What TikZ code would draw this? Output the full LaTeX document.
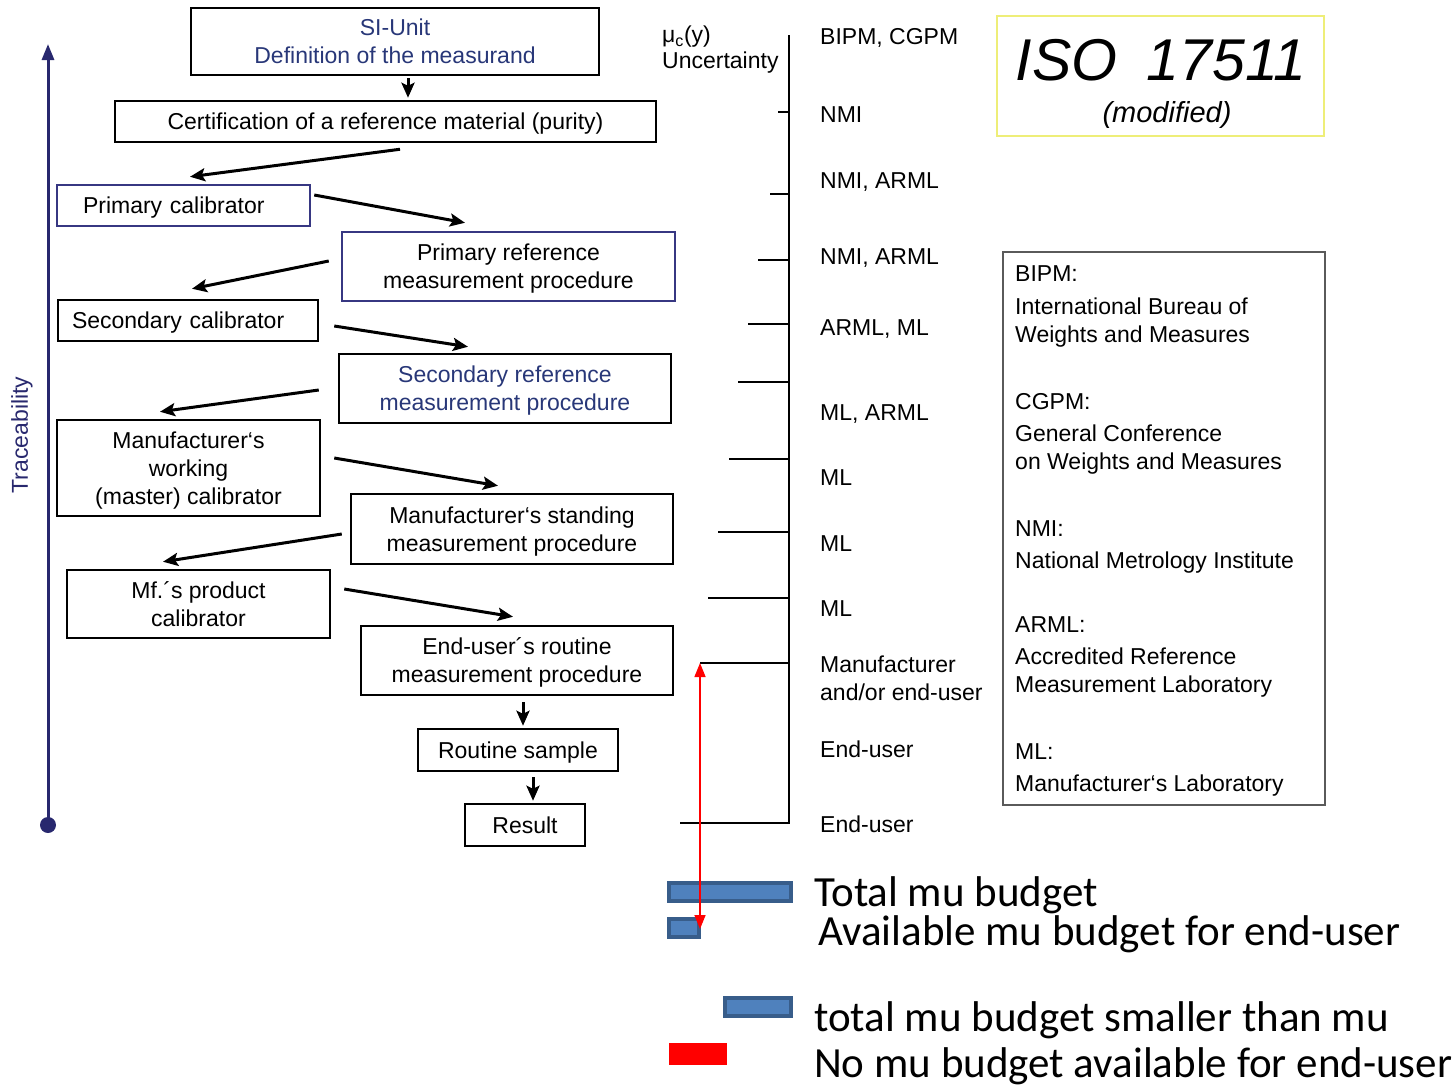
\documentclass[tikz,border=0pt]{standalone}
\usepackage{fontspec}
\setmainfont{Liberation Sans}
\newfontfamily\calfont{Carlito}
\usetikzlibrary{arrows.meta,calc}
\definecolor{navy}{RGB}{40,40,110}
\definecolor{boxnavy}{RGB}{55,55,130}
\definecolor{txtblue}{RGB}{40,55,120}
\definecolor{barfill}{RGB}{79,129,189}
\definecolor{barline}{RGB}{56,93,138}
\definecolor{isoyellow}{RGB}{238,238,120}
\definecolor{leggray}{RGB}{90,90,90}
\begin{document}
\begin{tikzpicture}[x=1pt,y=-1pt,
  every node/.style={font=\fontsize{23}{28}\selectfont, inner sep=0pt},
  box/.style={draw=black, line width=2.5pt, align=center, text depth=0pt},
  arr/.style={line width=3pt, -{Stealth[length=15pt,width=13pt,inset=3pt]}},
  tick/.style={line width=2pt},
  lab/.style={anchor=mid west, yshift=-3pt},
  bar/.style={draw=barline, fill=barfill, line width=4pt, inner sep=0pt},
  big/.style={anchor=base west, font=\calfont\fontsize{43}{48}\selectfont}
]
\useasboundingbox (0,0) rectangle (1456,1085);

% ---- traceability axis
\coordinate (ttop) at (48,44);
\coordinate (tbot) at (48,825);
\draw[navy, line width=3pt, -{Triangle[length=16pt,width=12pt]}] (tbot) -- (ttop);
\fill[navy] (tbot) circle (8pt);
\node[rotate=90, text=navy] (trace) at (22,435) {Traceability};

% ---- boxes
\node[box, minimum width=408pt, minimum height=67pt, text=txtblue] (si) at (395,41.5) {SI-Unit\\Definition of the measurand};
\node[box, minimum width=541pt, minimum height=41pt] (cert) at (385.5,121.5) {Certification of a reference material (purity)};
\node[box, draw=boxnavy, minimum height=41pt, text width=201pt, inner xsep=26pt, align=left] (pcal) at (183.5,205.5) {Primary calibrator};
\node[box, draw=boxnavy, minimum width=333pt, minimum height=69pt] (prmp) at (508.5,266.5) {Primary reference\\measurement procedure};
\node[box, minimum height=41pt, text width=232pt, inner xsep=14pt, align=left] (scal) at (188,320.5) {Secondary calibrator};
\node[box, minimum width=332pt, minimum height=69pt, text=txtblue] (srmp) at (505,388.5) {Secondary reference\\measurement procedure};
\node[box, minimum width=263pt, minimum height=96pt] (mwc) at (188.5,468) {Manufacturer‘s\\working\\(master) calibrator};
\node[box, minimum width=322pt, minimum height=70pt] (msmp) at (512,529) {Manufacturer‘s standing\\measurement procedure};
\node[box, minimum width=263pt, minimum height=68pt] (mpc) at (198.5,604) {Mf.´s product\\calibrator};
\node[box, minimum width=312pt, minimum height=69pt] (eurmp) at (517,660.5) {End-user´s routine\\measurement procedure};
\node[box, minimum width=200pt, minimum height=42pt] (rs) at (518,750) {Routine sample};
\node[box, minimum width=120pt, minimum height=42pt] (res) at (525,825) {Result};

% ---- arrows
\draw[arr] ([xshift=13pt,yshift=-2pt]si.south) -- ([xshift=13pt,yshift=2pt]si.south |- cert.north);
\draw[arr] ([xshift=14.5pt,yshift=-6pt]cert.south) -- ([xshift=6.5pt,yshift=7pt]pcal.north);
\draw[arr] ([xshift=3pt,yshift=10.5pt]pcal.east) -- ([xshift=-43.5pt,yshift=8pt]prmp.north);
\draw[arr] ([xshift=-12pt,yshift=5.5pt]prmp.west) -- ([xshift=4pt,yshift=10pt]scal.north);
\draw[arr] ([xshift=15pt,yshift=-5.5pt]scal.east) -- ([xshift=-37pt,yshift=6pt]srmp.north);
\draw[arr] ([xshift=-19pt,yshift=-1.5pt]srmp.west) -- ([xshift=-28.5pt,yshift=7pt]mwc.north);
\draw[arr] ([xshift=13pt,yshift=10pt]mwc.east) -- ([xshift=-14pt,yshift=7pt]msmp.north);
\draw[arr] ([xshift=-8pt,yshift=-5pt]msmp.west) -- ([xshift=-35.5pt,yshift=7pt]mpc.north);
\draw[arr] ([xshift=13pt,yshift=15pt]mpc.east) -- ([xshift=-4pt,yshift=8pt]eurmp.north);
\draw[arr] ([xshift=6pt,yshift=-6pt]eurmp.south) -- ([xshift=6pt,yshift=2pt]eurmp.south |- rs.north);
\draw[arr] ([xshift=15pt,yshift=-5pt]rs.south) -- ([xshift=15pt,yshift=2pt]rs.south |- res.north);

% ---- uncertainty axis
\node[lab] (mu) at (662,37) {μ\textsubscript{c}(y)};
\node[lab] (unc) at (662,63) {Uncertainty};
\coordinate (utop) at (789,35);
\coordinate (ubot) at (789,823);
\coordinate (uleft) at (680,823);
\draw[tick] (uleft) -- (ubot) -- (utop);
\foreach \y/\x in {112/778, 194/770, 260/758, 324/748, 382/738, 459/729, 532/718, 598/708, 663/700}
  \draw[tick] (\x,\y) -- (utop |- 0,\y);

\foreach \y/\t [count=\i] in {39/{BIPM, CGPM}, 117/NMI, 183/{NMI, ARML}, 259/{NMI, ARML}, 330/{ARML, ML}, 415/{ML, ARML}, 480/ML, 546/ML, 611/ML, 667/Manufacturer, 695/and\slash or end-user, 752/End-user, 827/End-user}
  \node[lab] (u\i) at (820,\y) {\t};

% ---- ISO box
\node[draw=isoyellow, line width=2.5pt, minimum width=327pt, minimum height=120pt] (iso) at (1160.5,76) {};
\node[font=\itshape\fontsize{59}{60}\selectfont] (isot) at (1161,60) {ISO\hspace{0.5em}17511};
\node[font=\itshape\fontsize{29}{30}\selectfont] (isom) at (1167,115) {(modified)};

% ---- legend box
\node[draw=leggray, line width=2pt, minimum width=322pt, minimum height=553pt] (legend) at (1164,528.5) {};
\foreach \y/\t [count=\i] in {276/BIPM:, 309/International Bureau of, 337/Weights and Measures, 404/CGPM:, 436/General Conference, 464/on Weights and Measures, 531/NMI:, 563/National Metrology Institute, 627/ARML:, 659/Accredited Reference, 687/Measurement Laboratory, 754/ML:, 786/Manufacturer‘s Laboratory}
  \node[lab] (l\i) at (1015,\y) {\t};

% ---- budget bars
\node[bar, minimum width=122pt, minimum height=18pt] (btotal) at (730,892) {};
\node[bar, minimum width=30pt, minimum height=18pt] (bavail) at (684,928) {};
\node[bar, minimum width=66pt, minimum height=18pt] (bsmall) at (758,1007) {};
\node[fill=red, minimum width=58pt, minimum height=22pt] (bred) at (698,1054) {};

\coordinate (rtop) at (700,663);
\coordinate (rbot) at (700,929);
\draw[red, line width=1.5pt, {Triangle[length=14pt,width=11pt]}-{Triangle[length=14pt,width=11pt]}] (rtop) -- (rbot);

\node[big] (t1) at (814,906) {Total mu budget};
\node[big] (t2) at (818,945) {Available mu budget for end-user};
\node[big] (t3) at (814,1031) {total mu budget smaller than mu};
\node[big] (t4) at (814,1077) {No mu budget available for end-user};
\end{tikzpicture}
\end{document}
